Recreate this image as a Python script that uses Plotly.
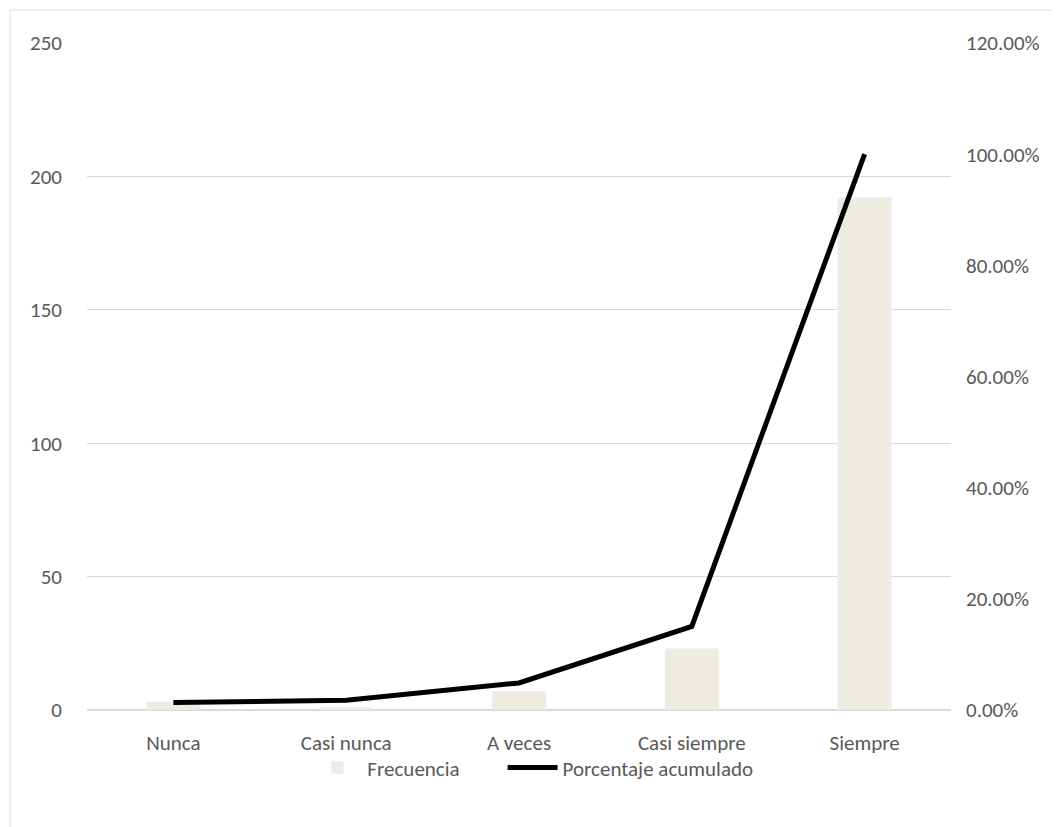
import plotly.graph_objects as go

categories = ["Nunca", "Casi nunca", "A veces", "Casi siempre", "Siempre"]
frecuencia = [3, 1, 7, 23, 192]
porcentaje_acumulado = [0.0133, 0.0177, 0.0487, 0.1504, 1.0]

font_family = "Carlito, Calibri, Lato, sans-serif"
gray = "#595959"

fig = go.Figure()
fig.add_trace(go.Bar(
    x=categories, y=frecuencia, name="Frecuencia" + "\u00a0" * 8,
    marker_color="#EEECE1", width=0.31,
))
fig.add_trace(go.Scatter(
    x=categories, y=porcentaje_acumulado, name="Porcentaje acumulado",
    mode="lines", line=dict(color="black", width=5), yaxis="y2",
))

# the page puts the figure 8px in from the top-left corner
L, R, T, B = 79, 117, 35, 125
W, H = 1060, 827
pw, ph = W - L - R, H - T - B

fig.update_layout(
    width=W, height=H,
    margin=dict(l=L, r=R, t=T, b=B, autoexpand=False),
    plot_bgcolor="white", paper_bgcolor="white",
    font=dict(family=font_family, size=21, color=gray),
    xaxis=dict(showline=False, ticks="", showgrid=False, automargin=False,
               ticklabelstandoff=18),
    yaxis=dict(range=[0, 250], dtick=50, showgrid=True, gridcolor="#d9d9d9",
               gridwidth=1, zeroline=True, zerolinecolor="#d9d9d9", zerolinewidth=2,
               ticks="", ticklabelstandoff=24, automargin=False),
    yaxis2=dict(range=[0, 1.2], dtick=0.2, tickformat=".2%", overlaying="y",
                side="right", showgrid=False, zeroline=False, ticks="",
                ticklabelstandoff=14, automargin=False),
    legend=dict(orientation="h", x=0.255, xanchor="left", y=-0.056, yanchor="top",
                bgcolor="rgba(0,0,0,0)", itemwidth=50,
                font=dict(size=21, color=gray)),
    showlegend=True,
    shapes=[dict(type="rect", xref="paper", yref="paper",
                 x0=(2 - L) / pw, x1=(W + 10 - L) / pw,
                 y0=-(H + 10 - T - ph) / ph, y1=1 + (T - 2) / ph,
                 line=dict(color="#d9d9d9", width=1), layer="below")],
)

fig.write_html("out.html")
